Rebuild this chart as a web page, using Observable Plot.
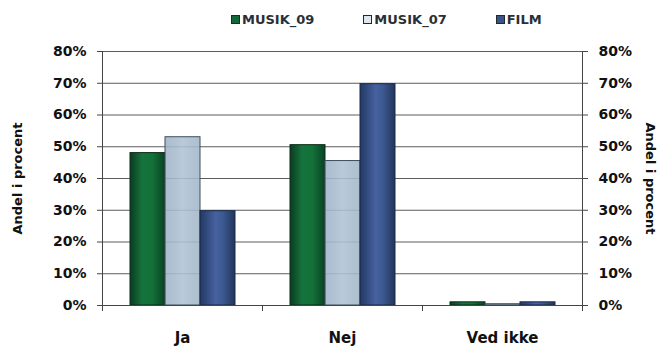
<!DOCTYPE html>
<html>
<head>
<meta charset="utf-8">
<script src="https://cdn.jsdelivr.net/npm/d3@7"></script>
<script src="https://cdn.jsdelivr.net/npm/@observablehq/plot@0.6"></script>
<style>
  body { margin: 0; background: #fff; font-family: "DejaVu Sans", sans-serif; }
  #legend {
    height: 38px; display: flex; align-items: center;
    padding-left: 231px; gap: 49px;
    font-weight: bold; font-size: 13px; color: #2a3035;
  }
  .item { display: flex; align-items: center; gap: 2px; }
  .swatch { width: 9px; height: 9px; box-sizing: border-box; border: 1.5px solid #1e2a30; }
</style>
</head>
<body>
<div id="legend"></div>
<div id="chart"></div>
<script>
// Answers per category, share of respondents
const categories = ["Ja", "Nej", "Ved ikke"];
const series = ["MUSIK_09", "MUSIK_07", "FILM"];
const musik09 = [0.48, 0.505, 0.01];
const musik07 = [0.53, 0.455, 0.004];
const film = [0.297, 0.697, 0.01];
const yTicks = [0, 0.1, 0.2, 0.3, 0.4, 0.5, 0.6, 0.7, 0.8];
const axisTitle = "Andel i procent";

const valuesBySeries = { MUSIK_09: musik09, MUSIK_07: musik07, FILM: film };
const rows = categories.flatMap((category, i) =>
  series.map(s => ({ category, series: s, value: valuesBySeries[s][i] }))
);

// Bar looks: gradient fill + outline, one per series
const look = {
  MUSIK_09: { fill: "url(#gradMusik09)", stroke: "#0a2c17", swatch: "#13673a", fillOpacity: 1 },
  MUSIK_07: { fill: "url(#gradMusik07)", stroke: "#3e4e5c", swatch: "#dfe6ec", fillOpacity: 0.88 },
  FILM:     { fill: "url(#gradFilm)",    stroke: "#1a2846", swatch: "#3a5486", fillOpacity: 1 }
};

// Legend
const legend = d3.select("#legend");
series.forEach(s => {
  const item = legend.append("div").attr("class", "item");
  item.append("div").attr("class", "swatch").style("background", look[s].swatch);
  item.append("span").text(s);
});

const width = 663, height = 311;
const marginTop = 13, marginBottom = 44, marginLeft = 101, marginRight = 80;
const innerHeight = height - marginTop - marginBottom;
const lineColor = "#454545";

const chart = Plot.plot({
  width, height, marginTop, marginBottom, marginLeft, marginRight,
  style: { fontFamily: "DejaVu Sans", fontWeight: "bold", color: "#111", background: "#fff" },
  fx: { domain: categories, padding: 0, axis: null },
  x: { domain: series, paddingInner: 0, paddingOuter: 0.75, axis: null },
  y: { domain: [0, 0.8], axis: null },
  marks: [
    Plot.gridY(yTicks, { stroke: "#4a4a4a", strokeOpacity: 0.9 }),
    ...series.map(s =>
      Plot.barY(rows.filter(d => d.series === s), {
        fx: "category", x: "series", y: "value",
        fill: look[s].fill, fillOpacity: look[s].fillOpacity,
        stroke: look[s].stroke, strokeWidth: 1
      })
    ),
    Plot.ruleY([0], { stroke: lineColor }),
    Plot.frame({ anchor: "left", facetAnchor: "left", stroke: lineColor }),
    Plot.frame({ anchor: "right", facetAnchor: "right", stroke: lineColor }),
    // short ticks below the baseline at each category boundary
    Plot.frame({ anchor: "left", insetTop: innerHeight, insetBottom: -5, stroke: lineColor }),
    Plot.frame({ anchor: "right", facetAnchor: "right", insetTop: innerHeight, insetBottom: -5, stroke: lineColor }),
    Plot.axisY(yTicks, {
      anchor: "left", tickFormat: d3.format(".0%"), tickSize: 5, tickPadding: 11,
      fontSize: 14, stroke: lineColor,
      label: axisTitle, labelArrow: "none", labelAnchor: "center", labelOffset: 90
    }),
    Plot.axisY(yTicks, {
      anchor: "right", tickFormat: d3.format(".0%"), tickSize: 5, tickPadding: 11,
      fontSize: 14, stroke: lineColor,
      label: axisTitle, labelArrow: "none", labelAnchor: "center", labelOffset: 63
    }),
    Plot.axisFx({ anchor: "bottom", tickSize: 0, tickPadding: 27, fontSize: 15, label: null })
  ]
});

// Horizontal shading gradients for the bars
const svg = d3.select(chart);
const defs = svg.insert("defs", ":first-child");
function gradient(id, stops) {
  const g = defs.append("linearGradient").attr("id", id)
    .attr("x1", 0).attr("x2", 1).attr("y1", 0).attr("y2", 0);
  stops.forEach(([offset, color]) => g.append("stop").attr("offset", offset).attr("stop-color", color));
}
gradient("gradMusik09", [[0, "#0b3c21"], [0.35, "#15743d"], [0.65, "#127038"], [1, "#0b4224"]]);
gradient("gradMusik07", [[0, "#9db2c6"], [0.5, "#afc2d3"], [1, "#a1b6c9"]]);
gradient("gradFilm", [[0, "#223963"], [0.45, "#4662a0"], [0.65, "#3d5991"], [1, "#21365c"]]);

// Axis titles: slightly smaller; the right one reads top to bottom
const titles = svg.selectAll('g[aria-label="y-axis label"] text');
titles.attr("font-size", 13);
titles.filter((d, i) => i === 1).each(function () {
  const t = this.getAttribute("transform") || "";
  this.setAttribute("transform", t.replace("rotate(-90)", "rotate(90)"));
});

document.getElementById("chart").appendChild(chart);
</script>
</body>
</html>
